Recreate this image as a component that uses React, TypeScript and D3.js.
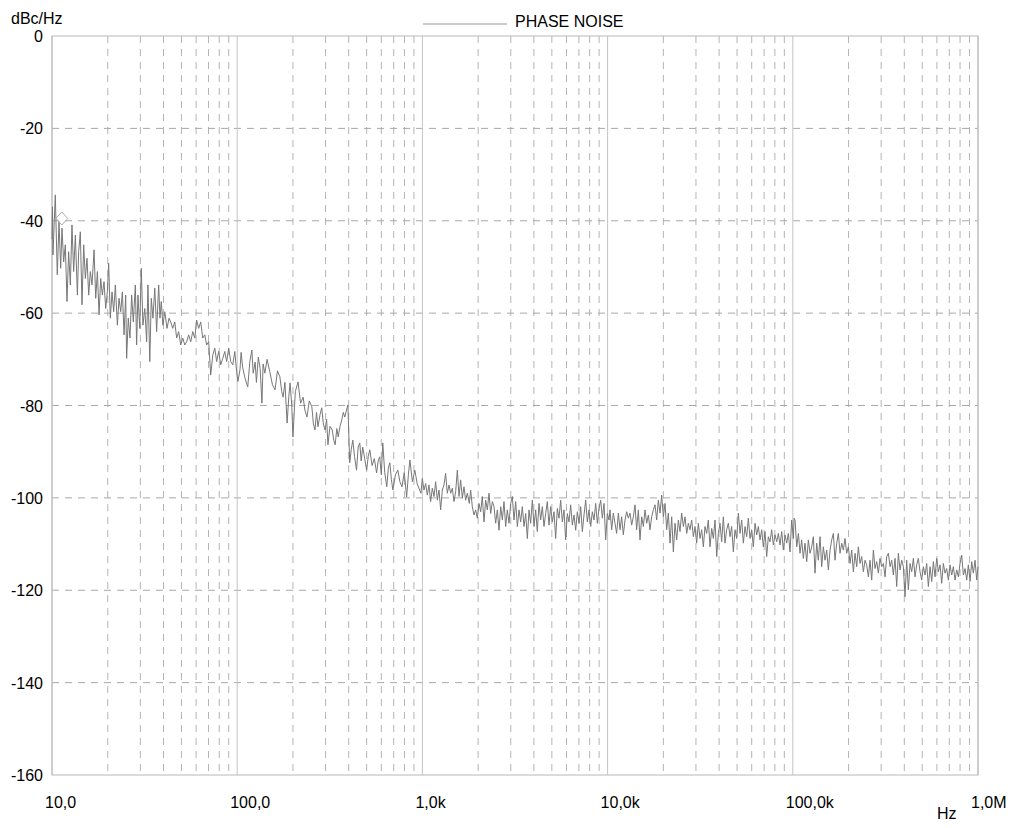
import React from "react";
import * as d3 from "d3";

// [frequency Hz, phase noise dBc/Hz]
const noiseLow: [number, number][] = [
  [10, -44], [10.06, -37], [10.12, -47.4], [10.42, -34.4], [10.68, -51.7], [10.91, -40.2], [11.14, -50.3], [11.32, -41.6],
  [11.56, -48.9], [11.8, -45.2], [12.05, -57.5], [12.3, -46.7], [12.56, -53.9], [12.82, -40.9], [13.09, -51.0], [13.37, -43.1],
  [13.71, -56.1], [13.93, -46.7], [14.22, -42.4], [14.52, -58.2], [14.83, -45.2], [15.14, -52.5], [15.45, -48.1], [15.78, -56.1],
  [16.11, -51.0], [16.44, -53.9], [16.87, -46.3], [17.22, -56.8], [17.58, -51.0], [17.95, -60.4], [18.32, -52.5], [18.7, -56.1],
  [19.09, -53.2], [19.5, -59.0], [19.9, -55.4], [20.23, -49.2], [20.65, -61.1], [21.09, -55.4], [21.53, -59.7], [21.98, -53.9],
  [22.54, -62.6], [23.01, -56.8], [23.5, -59.7], [23.99, -55.4], [24.49, -64.7], [25.0, -56.1], [25.29, -69.8], [25.82, -61.1],
  [26.36, -65.4], [26.92, -56.1], [27.48, -61.9], [28.18, -53.9], [28.64, -66.9], [29.11, -56.1], [29.77, -63.3], [30.34, -50.3],
  [30.97, -62.6], [31.7, -59.0], [32.43, -66.2], [32.96, -53.9], [33.73, -70.5], [34.36, -56.8], [35.08, -61.1], [35.89, -54.6],
  [36.73, -64.0], [37.67, -53.9], [38.28, -61.1], [38.9, -57.5], [39.72, -62.6], [40.64, -59.7], [41.78, -63.3], [42.85, -61.1],
  [43.75, -61.9], [44.87, -63.3], [46.03, -61.9], [47.1, -65.4], [48.31, -64.0], [49.55, -66.9], [50.82, -65.4], [52.12, -66.9],
  [53.33, -66.2], [54.7, -64.7], [56.1, -66.2], [57.54, -64.0], [59.02, -65.4], [60.39, -61.5], [61.94, -63.3], [63.53, -61.9],
  [65.16, -65.4], [66.83, -64.7], [68.39, -66.9], [70.15, -66.2], [71.94, -73.4], [73.79, -69.1], [75.68, -67.6], [77.45, -70.5],
  [79.43, -68.3], [81.47, -71.2], [83.56, -69.8], [85.7, -68.3], [87.7, -70.5], [89.95, -67.6], [92.26, -70.5], [94.62, -71.2],
  [97.05, -68.3], [99.31, -72.7], [100.9, -74.8],
];

const noiseMid: [number, number][] = [
  [103.5, -72.3], [105, -68.5], [107, -71.7], [110, -74], [114, -76], [117, -70.5], [120, -68], [122, -73], [125, -70.6],
  [127, -75], [130, -69.5], [133, -72], [136, -79.5], [138, -71], [141, -73], [145, -70], [150, -72.7], [155, -75.5],
  [160, -76.6], [165, -72.5], [170, -73.8], [174, -77], [177, -78.2], [181, -75], [186, -83.8], [190, -78], [193, -75.1],
  [197, -80], [200, -86.8], [206, -77], [213, -74.9], [220, -79.5], [227, -78.2], [232, -81], [238, -82.5], [245, -79],
  [253, -80.3], [258, -84], [263, -85.3], [268, -81.5], [273, -84.6], [280, -82], [286, -80.5], [292, -84], [298, -85.3],
  [304, -83], [309, -88.5], [317, -84.5], [326, -85.3], [332, -87.5], [338, -88.5], [345, -85], [351, -86.8], [359, -84.5],
  [367, -83.1], [374, -81.5], [381, -82.5], [389, -81], [396, -79.9], [405, -92.4], [413, -89.5], [421, -87.5], [430, -91],
  [441, -94], [450, -89], [459, -88.1], [467, -92], [476, -89], [488, -91.5], [500, -94], [510, -91], [520, -89.6],
  [535, -93], [550, -91.5], [566, -94.6], [577, -92], [588, -91.1], [600, -95], [611, -88.1], [626, -94.5], [642, -97.6],
  [655, -93.5], [667, -92.4], [680, -96], [693, -98.3], [715, -95], [737, -94], [756, -96.5], [776, -97.6], [798, -94.5],
  [822, -99.8], [840, -95], [856, -91.8], [883, -96.5], [910, -94], [938, -97], [967, -98.3],
];

const noiseKilo: [number, number][] = [
  [982, -99.0], [999, -95.8], [1020, -98.3], [1041, -96.9], [1063, -99.4], [1085, -97.2], [1108, -100.8], [1131, -97.9],
  [1155, -99.7], [1179, -96.5], [1204, -100.5], [1229, -98.3], [1255, -102.6], [1281, -98.3], [1308, -97.2], [1335, -94.7],
  [1363, -99.0], [1392, -97.2], [1421, -99.0], [1451, -97.9], [1481, -100.8], [1512, -98.7], [1544, -94.0], [1576, -99.7],
  [1609, -96.1], [1643, -100.1], [1677, -97.6], [1712, -100.5], [1748, -99.0], [1792, -101.2], [1822, -98.3], [1860, -101.9],
  [1899, -103.7], [1939, -102.6], [1980, -104.4], [2021, -101.2], [2064, -103.0], [2107, -99.7], [2151, -105.2], [2196, -100.5],
  [2242, -102.6], [2289, -99.0], [2337, -103.4], [2386, -100.8], [2436, -101.9], [2487, -105.5], [2539, -102.6], [2592, -107.0],
  [2647, -101.9], [2702, -104.8], [2758, -100.8], [2816, -106.2], [2875, -102.6], [2935, -105.5], [2997, -101.2], [3059, -99.7],
  [3124, -104.8], [3189, -100.8], [3256, -106.2], [3324, -102.6], [3393, -105.2], [3464, -101.9], [3537, -106.2], [3611, -103.4],
  [3687, -108.8], [3764, -102.6], [3842, -105.5], [3923, -100.5], [4005, -106.2], [4089, -102.6], [4174, -107.3], [4262, -101.2],
  [4351, -104.8], [4442, -101.9], [4535, -106.2], [4630, -103.4], [4727, -100.8], [4826, -105.9], [4927, -101.9], [5030, -105.2],
  [5136, -103.0], [5243, -108.8], [5353, -102.3], [5465, -104.4], [5579, -100.5], [5696, -105.2], [5816, -102.6], [5937, -109.1],
  [6062, -103.4], [6189, -105.2], [6318, -101.5], [6451, -105.9], [6586, -103.7], [6724, -107.0], [6865, -103.0], [7009, -105.5],
  [7155, -101.9], [7305, -107.3], [7458, -103.7], [7614, -100.5], [7774, -105.2], [7937, -102.6], [8103, -106.2], [8273, -103.0],
  [8446, -104.8], [8623, -101.2], [8803, -105.5], [8988, -102.3], [9176, -100.5], [9368, -104.4], [9563, -101.2], [9763, -109.1],
  [9968, -103.4], [10180, -104.8],
];

const noiseTenK: [number, number][] = [
  [10300, -102.6], [10520, -106.9], [10740, -103.3], [10960, -105.5], [11190, -107.7], [11430, -103.3], [11670, -106.9], [11910, -104.1],
  [12160, -108.0], [12420, -104.8], [12680, -103.0], [12940, -104.4], [13210, -103.3], [13490, -105.9], [13770, -104.1], [14060, -101.5],
  [14350, -106.9], [14660, -102.6], [14960, -109.1], [15280, -104.1], [15600, -106.2], [15920, -102.6], [16260, -105.5], [16600, -103.7],
  [16940, -106.9], [17300, -104.1], [17660, -102.6], [18030, -101.5], [18410, -104.8], [18790, -100.5], [19190, -103.3], [19590, -99.4],
  [20000, -104.1], [20420, -101.2], [20840, -106.9], [21280, -103.3], [21730, -109.8], [22180, -104.1], [22650, -111.7], [23120, -105.5],
  [23610, -109.1], [24100, -104.8], [24600, -107.3], [25120, -103.3], [25650, -106.2], [26180, -104.1], [26730, -107.7], [27290, -105.5],
  [27860, -106.9], [28440, -104.8], [29040, -108.4], [29650, -106.2], [30270, -109.8], [30900, -105.5], [31550, -108.8], [32210, -106.9],
  [32890, -110.6], [33570, -106.2], [34280, -107.7], [34990, -104.8], [35730, -110.6], [36480, -106.6], [37240, -108.8], [38020, -104.8],
  [38820, -112.7], [39630, -107.7], [40460, -105.5], [41300, -109.5], [42170, -104.1], [43050, -109.8], [43950, -106.9], [44870, -105.5],
  [45810, -108.4], [46770, -106.2], [47750, -111.7], [48750, -106.9], [49770, -108.8], [50820, -103.3], [51880, -107.7], [52970, -104.8],
  [54080, -109.8], [55210, -106.2], [56360, -108.4], [57540, -104.4], [58750, -108.8], [59980, -106.9], [61240, -110.6], [62520, -105.5],
  [63830, -108.0], [65160, -106.2], [66530, -109.1], [67920, -106.9], [69340, -110.6], [70790, -107.3], [72280, -112.7], [73790, -108.4],
  [75340, -109.5], [76910, -106.9], [78520, -110.2], [80170, -108.0], [81850, -109.5], [83560, -107.7], [85310, -110.2], [87100, -107.3],
  [88920, -111.3], [90780, -108.0], [92680, -109.8], [94620, -107.7], [96610, -111.7], [98620, -104.8], [100700, -108.8],
];

const noiseHundredK: [number, number][] = [
  [101600, -104.4], [102800, -104.8], [105000, -110.6], [107200, -107.7], [109400, -112.0], [111700, -109.1], [114000, -113.1], [116400, -109.8],
  [118900, -113.8], [121300, -109.1], [123900, -112.0], [126500, -110.6], [129100, -108.4], [131800, -116.3], [134600, -109.8], [137400, -113.5],
  [140300, -108.4], [143200, -114.9], [146200, -110.6], [149300, -113.5], [152400, -111.3], [155600, -115.6], [158900, -111.3], [162200, -109.1],
  [165600, -107.7], [169000, -113.5], [172600, -109.8], [176200, -107.7], [179900, -112.0], [183700, -109.8], [187500, -111.3], [191400, -108.8],
  [195400, -112.0], [199500, -110.6], [203700, -114.2], [208000, -111.3], [212300, -116.0], [216800, -112.0], [221300, -114.9], [225900, -110.6],
  [230700, -114.2], [235500, -112.7], [240400, -116.0], [245500, -113.5], [250600, -114.5], [255900, -117.1], [261200, -113.5], [266700, -117.8],
  [272300, -111.3], [278000, -115.3], [283800, -113.8], [289700, -116.3], [295800, -113.1], [302000, -114.9], [308300, -114.2], [314800, -117.1],
  [321400, -112.7], [328100, -112.0], [335000, -114.9], [342000, -113.5], [349100, -116.7], [356500, -113.1], [363900, -119.2], [371500, -112.0],
  [379300, -115.6], [387300, -113.5], [395400, -114.9], [403600, -121.4], [412100, -113.5], [420700, -119.9], [429500, -114.2], [438500, -116.0],
  [447700, -113.1], [457100, -117.1], [466700, -114.5], [476400, -113.1], [486400, -116.0], [496600, -117.8], [507000, -114.9], [517600, -116.7],
  [528400, -114.2], [539500, -119.2], [550800, -114.9], [562300, -118.1], [574100, -113.8], [586100, -117.1], [598400, -113.1], [610900, -116.0],
  [623700, -114.5], [636800, -118.5], [650100, -114.2], [663700, -116.3], [677600, -115.3], [691800, -117.8], [706300, -114.5], [721100, -116.7],
  [736200, -114.9], [751700, -117.8], [767400, -115.6], [783400, -117.1], [799800, -114.2], [816600, -112.4], [833700, -116.7], [851100, -115.3],
  [869000, -117.8], [887200, -114.5], [905700, -118.1], [924700, -113.8], [944100, -116.3], [963800, -113.5], [984000, -117.8], [1000000, -114.9],
];

const markerPoint: [number, number] = [11.3, -39.5];
const yTicks: number[] = [0, -20, -40, -60, -80, -100, -120, -140, -160];
const xMajorTicks: number[] = [10, 100, 1000, 10000, 100000, 1000000];
const xTickLabels: string[] = ["10,0", "100,0", "1,0k", "10,0k", "100,0k", "1,0M"];
const seriesName = "PHASE NOISE";

export default function App() {
  const W = 1012, H = 828;
  const left = 52, right = 978, top = 36, bottom = 775;
  const x = d3.scaleLog().domain([10, 1e6]).range([left, right]);
  const y = d3.scaleLinear().domain([0, -160]).range([top, bottom]);
  const minor: number[] = [];
  for (let dec = 10; dec < 1e6; dec *= 10) for (let k = 2; k <= 9; k++) minor.push(dec * k);
  const data = [...noiseLow, ...noiseMid, ...noiseKilo, ...noiseTenK, ...noiseHundredK];
  const line = d3.line<[number, number]>().x((d) => x(d[0])).y((d) => y(d[1]));
  const path = line(data) || "";
  const font = "Arial, 'Liberation Sans', sans-serif";
  const mx = x(markerPoint[0]), my = y(markerPoint[1]);
  return (
    <svg width={W} height={H} style={{ position: "absolute", left: 0, top: 0, background: "#fff" }} fontFamily={font}>
      {minor.map((f) => (
        <line key={"m" + f} x1={x(f)} x2={x(f)} y1={top} y2={bottom} stroke="#b4b4b4" strokeDasharray="7,6" strokeWidth={1} />
      ))}
      {yTicks.filter((t) => t !== 0 && t !== -160).map((t) => (
        <line key={"h" + t} x1={left} x2={right} y1={y(t)} y2={y(t)} stroke="#a8a8a8" strokeDasharray="7,6" strokeWidth={1} />
      ))}
      {xMajorTicks.map((f) => (
        <line key={"M" + f} x1={x(f)} x2={x(f)} y1={top} y2={bottom} stroke="#c4c4c4" strokeWidth={1} />
      ))}
      <rect x={left} y={top} width={right - left} height={bottom - top} fill="none" stroke="#b8b8b8" strokeWidth={1} />
      <path d={path} fill="none" stroke="#777" strokeWidth={1} />
      <path d={`M${mx},${my - 6.5}L${mx + 6},${my}L${mx},${my + 6.5}L${mx - 6},${my}Z`} fill="none" stroke="#aaa" strokeWidth={1} />
      {yTicks.map((t) => (
        <text key={"yt" + t} x={43} y={y(t) + 6} textAnchor="end" fontSize={16} fill="#000">{t}</text>
      ))}
      {xMajorTicks.map((f, i) => (
        <text key={"xt" + f} x={x(f) - 7} y={808} fontSize={16} fill="#000">{xTickLabels[i]}</text>
      ))}
      <text x={11} y={24} fontSize={16} fill="#000">dBc/Hz</text>
      <text x={937} y={819} fontSize={16} fill="#000">Hz</text>
      <line x1={423} x2={507} y1={24} y2={24} stroke="#999" strokeWidth={1} />
      <text x={515} y={27} fontSize={16} fill="#000">{seriesName}</text>
    </svg>
  );
}
